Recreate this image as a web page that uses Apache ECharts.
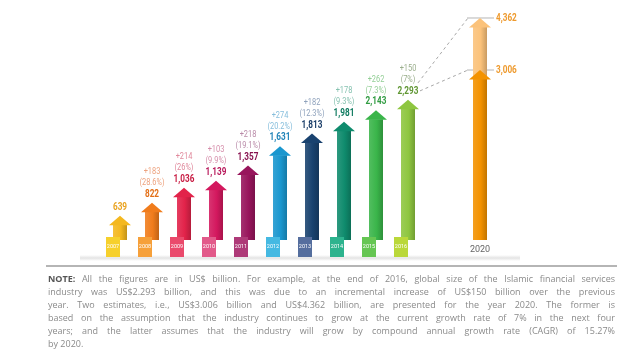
<!DOCTYPE html>
<html><head><meta charset="utf-8">
<script src="https://cdn.jsdelivr.net/npm/echarts@6/dist/echarts.min.js"></script>
<style>html,body{margin:0;padding:0;background:#fff}#c{width:643px;height:354px}</style>
</head><body><div id="c"></div>
<script>
// ---- data ----
const years = ['2007','2008','2009','2010','2011','2012','2013','2014','2015','2016'];
const sizes = [639, 822, 1036, 1139, 1357, 1631, 1813, 1981, 2143, 2293];
const increments = ['', '+183', '+214', '+103', '+218', '+274', '+182', '+178', '+262', '+150'];
const growth = ['', '(28.6%)', '(26%)', '(9.9%)', '(19.1%)', '(20.2%)', '(12.3%)', '(9.3%)', '(7.3%)', '(7%)'];
const projYears = ['2020'];
const projLow = [3006];
const projHigh = [4362];
const noteLines = [
  'NOTE: All the figures are in US$ billion. For example, at the end of 2016, global size of the Islamic financial services',
  'industry was US$2.293 billion, and this was due to an incremental increase of US$150 billion over the previous',
  'year. Two estimates, i.e., US$3.006 billion and US$4.362 billion, are presented for the year 2020. The former is',
  'based on the assumption that the industry continues to grow at the current growth rate of 7% in the next four',
  'years; and the latter assumes that the industry will grow by compound annual growth rate (CAGR) of 15.27%',
  'by 2020.'
];

// ---- styles ----
const barColors = ['#F4B81F','#F07C1C','#E2234A','#D3185E','#98155C','#1A97CF','#19426F','#0F8B6D','#3AB54A','#8EC640'];
const tabColors = ['#F6D02C','#F6A03A','#EA4A6C','#E25A8A','#AE3A78','#45B9E2','#556E9E','#2DB38E','#66C653','#BAD83A'];
const valColors = ['#E9A21E','#E36F17','#C81B42','#B8175A','#87124F','#1F83B8','#1A3D68','#0E7A5F','#2F9B40','#5F9632'];
const incColors = ['#E9B35A','#EDA27E','#E0899C','#D58DAA','#B98AA8','#86BEDC','#8FA2BC','#86C2B0','#93CF96','#9AAE8C'];
const projDark = '#F39200', projLight = '#FBC27A', projText = '#EE9A2E';
const LBL = 'Roboto, sans-serif';
const SX = 0.78;

function mix(hex, target, t) {
  const a = parseInt(hex.slice(1), 16), b = parseInt(target.slice(1), 16);
  const ch = s => [(s >> 16) & 255, (s >> 8) & 255, s & 255];
  const A = ch(a), B = ch(b);
  return 'rgb(' + A.map((v, i) => Math.round(v + (B[i] - v) * t)).join(',') + ')';
}
function bodyFill(c) {
  return new echarts.graphic.LinearGradient(0, 0, 1, 0, [
    {offset: 0, color: mix(c, '#ffffff', 0.12)},
    {offset: 0.55, color: c},
    {offset: 1, color: mix(c, '#000000', 0.2)}
  ]);
}
const BW = 14, HW = 22, HH = 9;
function arrow(cx, topY, baseY, c) {
  return [
    {type: 'rect', shape: {x: cx - BW / 2, y: topY, width: BW, height: baseY - topY}, style: {fill: bodyFill(c)}},
    {type: 'polygon', shape: {points: [[cx - HW / 2, topY + 0.5], [cx + HW / 2, topY + 0.5], [cx, topY - HH]]}, style: {fill: c}}
  ];
}
function label(x, y, text, fill, size, bold, align, va) {
  return {type: 'text', x: x, y: y, scaleX: SX, style: {text: text, fill: fill, fontFamily: LBL, fontWeight: bold ? 'bold' : 'normal', fontSize: size, align: align || 'center', verticalAlign: va || 'bottom'}};
}

function renderMain(params, api) {
  const i = api.value(0), v = api.value(1);
  const p = api.coord([i, v]);
  const cs = params.coordSys;
  const baseY = cs.y + cs.height;
  const tip = p[1] - HH;
  const els = arrow(p[0], p[1], baseY, barColors[i]);
  els.push(label(p[0], tip - 3, v.toLocaleString('en-US'), valColors[i], 10.5, true));
  if (growth[i]) {
    els.push(label(p[0], tip - 15, growth[i], incColors[i], 9.5, false));
    els.push(label(p[0], tip - 26, increments[i], incColors[i], 9.5, false));
  }
  return {type: 'group', children: els};
}

function renderProj(params, api) {
  const i = api.value(0);
  const lo = api.coord([i, api.value(1)]), hi = api.coord([i, api.value(2)]);
  const cs = params.coordSys;
  const baseY = cs.y + cs.height;
  const cx = lo[0];
  const els = [];
  [hi, lo].forEach(p => {
    els.push({type: 'line', shape: {x1: cx - 13, y1: p[1] - HH, x2: cx + 14, y2: p[1] - HH}, style: {stroke: '#b5b5b5', lineWidth: 1}});
  });
  els.push(...arrow(cx, hi[1], lo[1], projLight));
  els.push(...arrow(cx, lo[1], baseY, projDark));
  [[hi, api.value(2)], [lo, api.value(1)]].forEach(([p, v]) => {
    els.push(label(cx + 16, p[1] - HH, v.toLocaleString('en-US'), projText, 10.5, true, 'left', 'middle'));
  });
  return {type: 'group', children: els};
}

// ---- note text (justified) ----
const ctx = document.createElement('canvas').getContext('2d');
const NOTE_FONT = '"Open Sans", sans-serif', NOTE_SIZE = 9;
function tw(t, bold) { ctx.font = (bold ? 'bold ' : '') + NOTE_SIZE + 'px ' + NOTE_FONT; return ctx.measureText(t).width; }
const X0 = 48, X1 = 615;
const noteEls = [];
noteLines.forEach((line, li) => {
  const words = line.split(' ');
  const y = 279 + li * 13.1;
  const ws = words.map((t, k) => tw(t, li === 0 && k === 0));
  const total = ws.reduce((a, b) => a + b, 0);
  const last = li === noteLines.length - 1;
  const gap = last ? tw(' ') : (X1 - X0 - total) / (words.length - 1);
  let x = X0;
  words.forEach((t, k) => {
    const bold = li === 0 && k === 0;
    noteEls.push({type: 'text', x: x, y: y, silent: true, style: {text: t, fill: bold ? '#555' : '#8a8a8a', fontFamily: NOTE_FONT, fontSize: NOTE_SIZE, fontWeight: bold ? 'bold' : 'normal', verticalAlign: 'middle'}});
    x += ws[k] + gap;
  });
});

const rich = {};
years.forEach((y, i) => {
  rich['t' + i] = {backgroundColor: tabColors[i], color: '#fff', width: 14, height: 20, lineHeight: 20, align: 'center', fontSize: 5.5, fontFamily: LBL};
});

const chart = echarts.init(document.getElementById('c'), null, {renderer: 'canvas'});
chart.setOption({
  animation: false,
  backgroundColor: '#fff',
  grid: [
    {left: 104, right: 219, top: 10, bottom: 114},
    {left: 464, right: 147, top: 10, bottom: 114}
  ],
  xAxis: [
    {type: 'category', gridIndex: 0, data: years, z: 10,
     axisLine: {show: false}, axisTick: {show: false}, splitLine: {show: false},
     axisLabel: {interval: 0, margin: -3, padding: [0, 14, 0, 0], formatter: (v, i) => '{t' + i + '|' + v + '}', rich: rich}},
    {type: 'category', gridIndex: 1, data: projYears,
     axisLine: {show: false}, axisTick: {show: false},
     axisLabel: {margin: 5, color: '#666', fontSize: 9, fontFamily: LBL}}
  ],
  yAxis: [
    {type: 'value', gridIndex: 0, min: 420, max: 3705, show: false},
    {type: 'value', gridIndex: 1, min: -1190, max: 4805, show: false}
  ],
  series: [
    {type: 'custom', xAxisIndex: 0, yAxisIndex: 0, renderItem: renderMain, data: sizes.map((v, i) => [i, v]), z: 3},
    {type: 'custom', xAxisIndex: 1, yAxisIndex: 1, renderItem: renderProj, data: projLow.map((v, i) => [i, v, projHigh[i]]), z: 3}
  ]
});

// dashed connectors from 2016 to the two 2020 estimates
const last = sizes.length - 1;
const p16 = chart.convertToPixel({xAxisIndex: 0, yAxisIndex: 0}, [last, sizes[last]]);
const pLo = chart.convertToPixel({xAxisIndex: 1, yAxisIndex: 1}, [0, projLow[0]]);
const pHi = chart.convertToPixel({xAxisIndex: 1, yAxisIndex: 1}, [0, projHigh[0]]);
const tip16 = p16[1] - HH;
chart.setOption({graphic: [
  {type: 'rect', silent: true, z: 0, shape: {x: 80, y: 255, width: 440, height: 6}, style: {fill: new echarts.graphic.LinearGradient(0, 0, 0, 1, [{offset: 0, color: 'rgba(210,210,210,0)'}, {offset: 0.5, color: 'rgba(210,210,210,0.6)'}, {offset: 1, color: 'rgba(210,210,210,0)'}])}},
  {type: 'line', silent: true, shape: {x1: 46, y1: 266, x2: 617, y2: 266}, style: {stroke: '#9c9c9c', lineWidth: 1.5}},
  {type: 'line', silent: true, shape: {x1: p16[0] + 12, y1: tip16 - 9, x2: pLo[0] - 12, y2: pLo[1] - HH}, style: {stroke: '#a8a8a8', lineWidth: 1, lineDash: [3, 3]}},
  {type: 'line', silent: true, shape: {x1: p16[0] + 10, y1: tip16 - 17, x2: pHi[0] - 12, y2: pHi[1] - HH}, style: {stroke: '#a8a8a8', lineWidth: 1, lineDash: [3, 3]}},
  ...noteEls
]});
</script>
</body></html>
